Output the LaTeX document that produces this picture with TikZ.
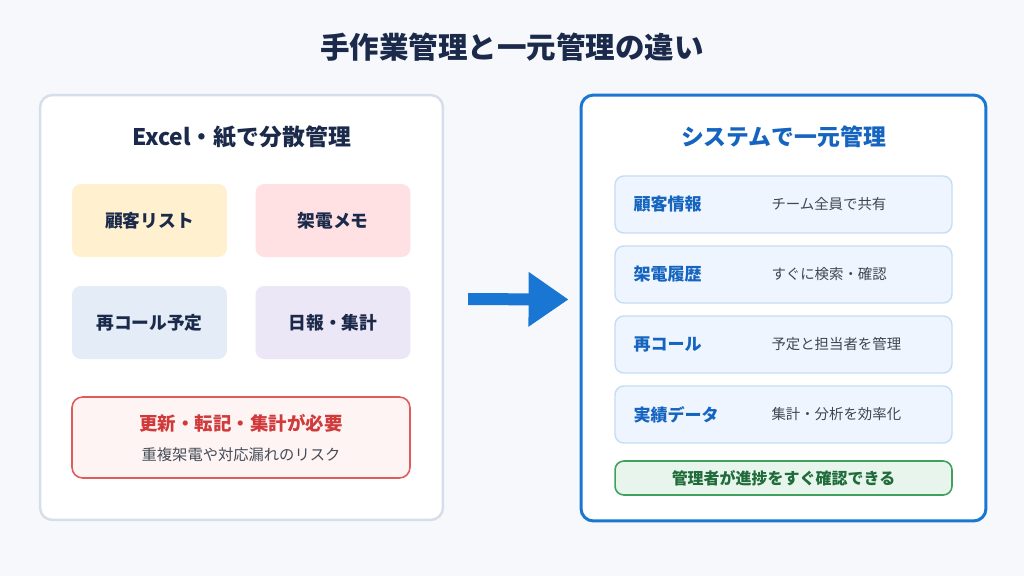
\documentclass[tikz,border=0pt]{standalone}
\usepackage{fontspec}
\setmainfont{Noto Sans CJK JP}
\usetikzlibrary{arrows.meta}
\usetikzlibrary{calc}

\begin{document}
\begin{tikzpicture}[x=0.02cm,y=-0.02cm,
    panel/.style={draw,rounded corners=7pt,fill=white},
    item/.style={rounded corners=5pt,font=\fontsize{10.1pt}{11pt}\selectfont\bfseries,text=navy,minimum width=3.1cm,minimum height=1.46cm},
    row/.style={draw=rowline,fill=rowfill,line width=0.8pt,rounded corners=5pt,minimum width=6.74cm,minimum height=1.14cm},
    rowlabel/.style={anchor=west,font=\fontsize{9.7pt}{11pt}\selectfont\bfseries,text=labelblue},
    rowdesc/.style={anchor=west,font=\fontsize{8.2pt}{10pt}\selectfont,text=descgray}
    ]
\definecolor{bgcol}{HTML}{F6F8FC}
\definecolor{navy}{HTML}{1B2A4A}
\definecolor{lightline}{HTML}{D6DEE9}
\definecolor{sysblue}{HTML}{1976D2}
\definecolor{labelblue}{HTML}{1565C0}
\definecolor{yel}{HTML}{FFF0CF}
\definecolor{pnk}{HTML}{FFE0E3}
\definecolor{lblue}{HTML}{E3ECF7}
\definecolor{lav}{HTML}{ECE7F6}
\definecolor{rline}{HTML}{E05B5B}
\definecolor{rfill}{HTML}{FFF4F4}
\definecolor{rtext}{HTML}{D03A3A}
\definecolor{graytext}{HTML}{444C57}
\definecolor{rowfill}{HTML}{EEF5FE}
\definecolor{rowline}{HTML}{C5DDF4}
\definecolor{descgray}{HTML}{3F4650}
\definecolor{gfill}{HTML}{E7F5EC}
\definecolor{gline}{HTML}{3FA15B}
\definecolor{gtext}{HTML}{1F6B3A}

\fill[bgcol] (0,0) rectangle (1024,576);
\useasboundingbox (0,0) rectangle (1024,576);

\node[font=\fontsize{16.8pt}{18pt}\selectfont\bfseries,text=navy] (title) at (512,47) {手作業管理と一元管理の違い};

% left side
\node[panel,draw=lightline,line width=1.4pt,minimum width=8.06cm,minimum height=8.5cm] (lp) at (241.5,307.5) {};
\node[font=\fontsize{13pt}{15pt}\selectfont\bfseries,text=navy] (lh) at (241.5,137) {Excel・紙で分散管理};

\node[item,fill=yel] (cust) at (149.5,220.5) {顧客リスト};
\node[item,fill=pnk] (memo) at (333,220.5) {架電メモ};
\node[item,fill=lblue] (recall) at (149.5,322.5) {再コール予定};
\node[item,fill=lav] (daily) at (333,322.5) {日報・集計};

\node[draw=rline,fill=rfill,line width=0.9pt,rounded corners=6pt,minimum width=6.76cm,minimum height=1.62cm] (warn) at (241,437.5) {};
\node[font=\fontsize{10.5pt}{12pt}\selectfont\bfseries,text=rtext] (warnt) at (241,423) {更新・転記・集計が必要};
\node[font=\fontsize{8.7pt}{10pt}\selectfont,text=graytext] (warns) at (241,455) {重複架電や対応漏れのリスク};

% right side
\node[panel,draw=sysblue,line width=1.7pt,minimum width=8.1cm,minimum height=8.52cm] (rp) at (783.5,308) {};
\node[font=\fontsize{13pt}{15pt}\selectfont\bfseries,text=labelblue] (rh) at (783.5,137) {システムで一元管理};

\node[row] (r1) at (783.5,204.5) {};
\node[row] (r2) at (783.5,274.5) {};
\node[row] (r3) at (783.5,344.5) {};
\node[row] (r4) at (783.5,414.5) {};

\node[rowlabel] (l1) at ([xshift=0.26cm]r1.west) {顧客情報};
\node[rowdesc] (d1) at ([xshift=3.02cm]r1.west) {チーム全員で共有};
\node[rowlabel] (l2) at ([xshift=0.26cm]r2.west) {架電履歴};
\node[rowdesc] (d2) at ([xshift=3.02cm]r2.west) {すぐに検索・確認};
\node[rowlabel] (l3) at ([xshift=0.26cm]r3.west) {再コール};
\node[rowdesc] (d3) at ([xshift=3.02cm]r3.west) {予定と担当者を管理};
\node[rowlabel] (l4) at ([xshift=0.26cm]r4.west) {実績データ};
\node[rowdesc] (d4) at ([xshift=3.02cm]r4.west) {集計・分析を効率化};

\node[draw=gline,fill=gfill,line width=0.9pt,rounded corners=5pt,minimum width=6.74cm,minimum height=0.68cm,font=\fontsize{9.1pt}{10pt}\selectfont\bfseries,text=gtext] (ok) at (783.5,478) {管理者が進捗をすぐ確認できる};

% arrow between panels
\draw[-{Triangle[length=0.8cm,width=1.04cm]},line width=0.24cm,draw=sysblue,shorten <=0.48cm,shorten >=0.22cm] ([yshift=0.17cm]lp.east) -- ([yshift=0.17cm]rp.west);

\end{tikzpicture}
\end{document}
